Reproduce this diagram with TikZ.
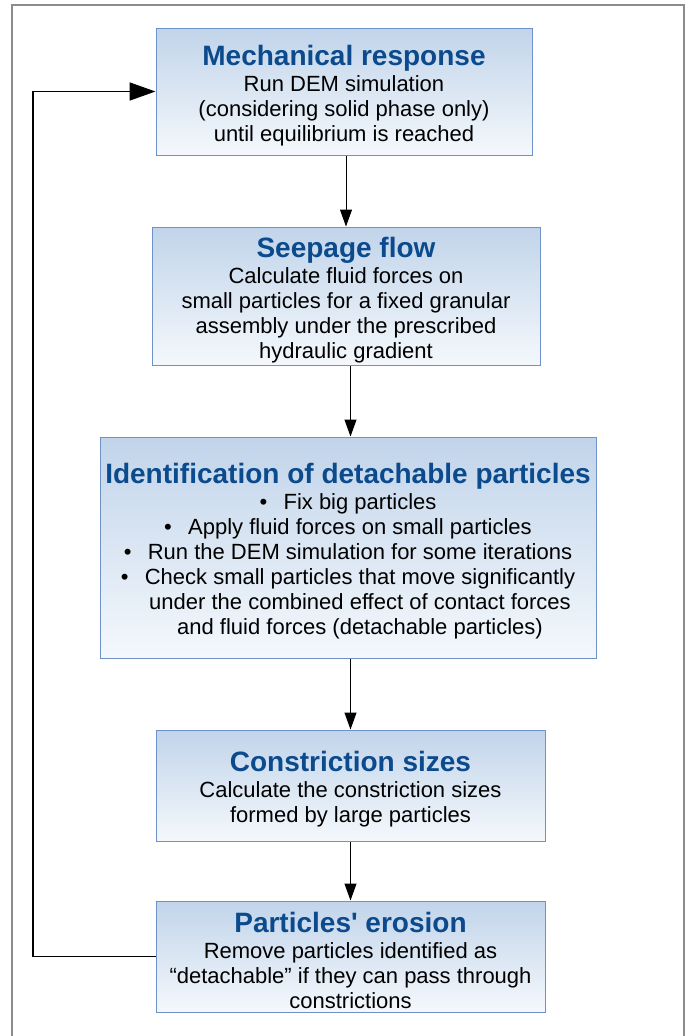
\documentclass[tikz,border=0pt]{standalone}
\usepackage{fontspec}
\setmainfont{Liberation Sans}
\usetikzlibrary{arrows.meta, positioning, calc}
\definecolor{titleblue}{RGB}{11,74,140}
\definecolor{boxline}{RGB}{110,146,200}
\definecolor{boxtop}{RGB}{193,212,234}
\definecolor{boxbottom}{RGB}{244,248,252}
\definecolor{framegray}{RGB}{140,140,140}
\newcommand{\boxtitle}[1]{{\fontsize{28}{31}\selectfont\bfseries\color{titleblue}\rule{0pt}{28pt}#1}\\[1pt]}
\newcommand{\blt}{\makebox[24pt][l]{\textbullet}}
\newcommand{\nblt}{\hspace*{24pt}}
\tikzset{
    x=1pt, y=-1pt, semithick,
    stage/.style ={rectangle, draw=boxline, line width=1pt, top color=boxtop,
                   bottom color=boxbottom, align=center, inner sep=0pt,
                   font=\fontsize{22}{25}\selectfont},
    flow/.style = {-{Triangle[length=17pt,width=12pt]}, line width=1pt},
    loopback/.style = {-{Triangle[length=26pt,width=18pt]}, line width=1.8pt},
    frame/.style = {draw=framegray, line width=1.5pt}
    }

\begin{document}
\begin{tikzpicture}
    \useasboundingbox (0,0) rectangle (692,1036);
    \draw[frame] (12,1050) |- (684,5) -- (684,1050);

    \node (mech) at (344,91.5) [stage, minimum width=376pt, minimum height=127pt]
        {\boxtitle{Mechanical response}Run DEM simulation\\(considering solid phase only)\\until equilibrium is reached};
    \node (seep) at (346,296) [stage, minimum width=388pt, minimum height=138pt]
        {\boxtitle{Seepage flow}Calculate fluid forces on\\small particles for a fixed granular\\assembly under the prescribed\\hydraulic gradient};
    \node (ident) at (348,547.5) [stage, minimum width=496pt, minimum height=221pt]
        {\boxtitle{Identification of detachable particles}\blt Fix big particles\\\blt Apply fluid forces on small particles\\\blt Run the DEM simulation for some iterations\\\blt Check small particles that move significantly\\\nblt under the combined effect of contact forces\\\nblt and fluid forces (detachable particles)};
    \node (cons) at (350.5,785.5) [stage, minimum width=389pt, minimum height=111pt]
        {\boxtitle{Constriction sizes}Calculate the constriction sizes\\formed by large particles};
    \node (eros) at (350.5,956.5) [stage, minimum width=389pt, minimum height=111pt]
        {\boxtitle{Particles\textquotesingle{} erosion}Remove particles identified as\\“detachable” if they can pass through\\constrictions};
    \coordinate (bend) at (33,0);

    \draw[flow] (mech.south -| seep) -- (seep.north);
    \draw[flow] (seep.south -| cons) -- (cons |- ident.north);
    \draw[flow] (ident.south -| cons) -- (cons.north);
    \draw[flow] (cons.south) -- (eros.north);
    \draw[loopback] (eros.west) -- (eros.west -| bend) |- (mech.west);
\end{tikzpicture}
\end{document}
